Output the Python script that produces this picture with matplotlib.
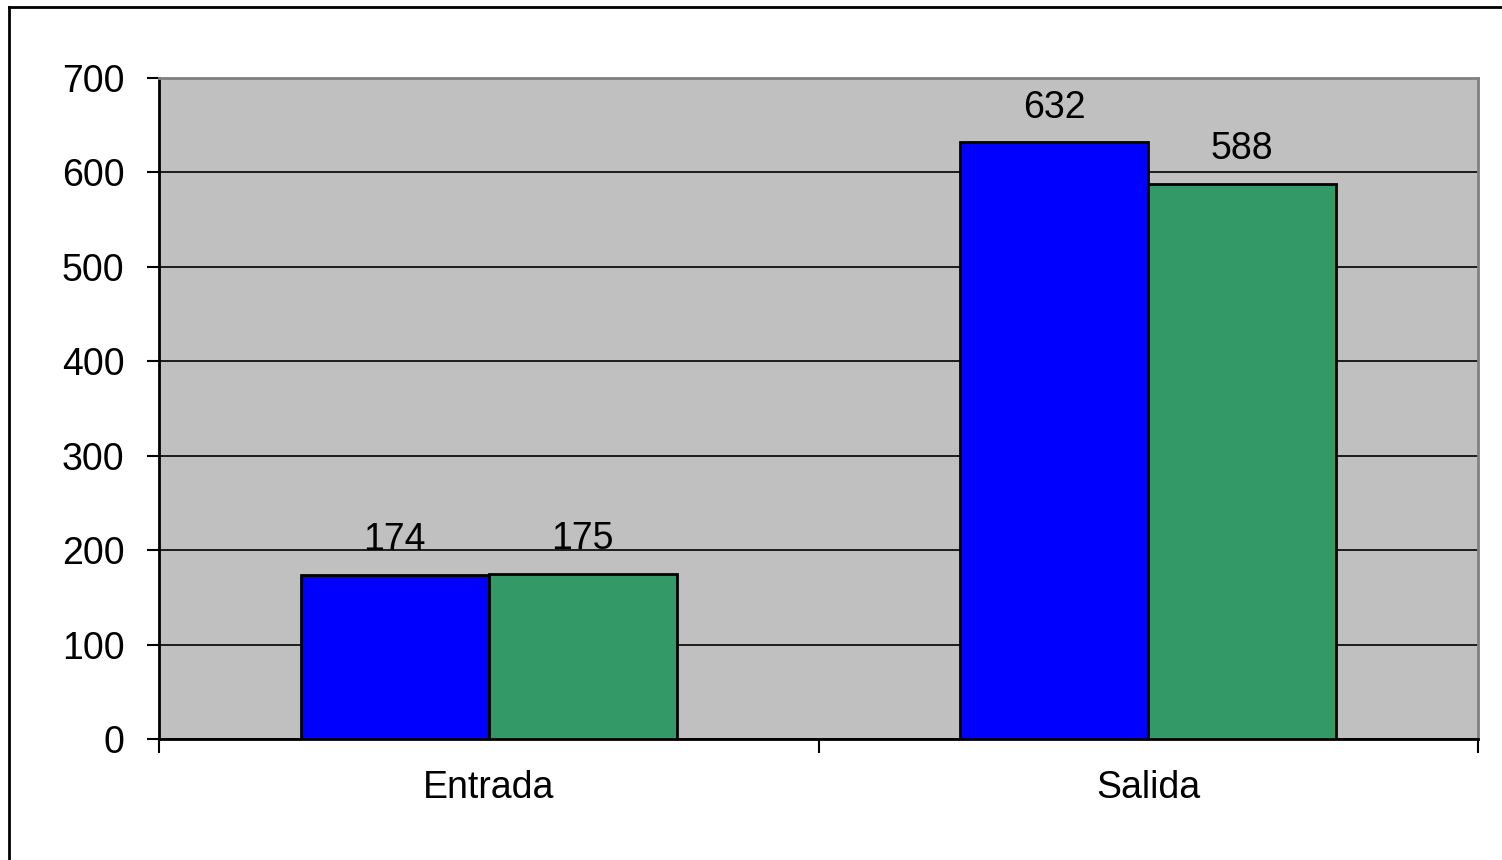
import matplotlib.pyplot as plt
from matplotlib.lines import Line2D

categories = ['Entrada', 'Salida']
serie_a = [174, 632]
serie_b = [175, 588]
yticks = [0, 100, 200, 300, 400, 500, 600, 700]

plt.rcParams['font.family'] = ['Liberation Sans', 'DejaVu Sans']
FS = 27

fig = plt.figure(figsize=(15.02, 8.6), dpi=100)
ax = fig.add_axes([0.1059, 0.1407, 0.8782, 0.7686])
ax.set_facecolor('#C0C0C0')

w = 0.285
centers = [i + 0.5 for i in range(len(categories))]
xa = [c - w / 2 for c in centers]
xb = [c + w / 2 for c in centers]
bars_a = ax.bar(xa, serie_a, width=w, color='#0000FF', edgecolor='black', linewidth=2, zorder=3)
bars_b = ax.bar(xb, serie_b, width=w, color='#339966', edgecolor='black', linewidth=2, zorder=3)

for bars in (bars_a, bars_b):
    for b in bars:
        ax.annotate(str(int(b.get_height())), (b.get_x() + b.get_width() / 2, b.get_height()),
                    xytext=(0, 12), textcoords='offset points', ha='center', va='bottom',
                    fontsize=FS, color='black')

ax.set_xlim(0, len(categories))
ax.set_ylim(0, 700)
ax.set_yticks(yticks)
ax.set_yticklabels([str(v) for v in yticks], fontsize=FS)
ax.yaxis.grid(True, color='black', linewidth=1.2, zorder=1)
ax.set_axisbelow(True)

# category ticks on boundaries, labels at centers
ax.set_xticks(range(len(categories) + 1))
ax.set_xticklabels([''] * (len(categories) + 1))
ax.set_xticks(centers, minor=True)
ax.set_xticklabels(categories, minor=True, fontsize=FS)
ax.tick_params(axis='x', which='minor', length=0, pad=22)
ax.tick_params(axis='x', which='major', length=10, width=1.5, direction='out')
ax.tick_params(axis='y', length=9, width=1.5, pad=16)

ax.spines['left'].set_color('black')
ax.spines['left'].set_linewidth(2)
ax.spines['bottom'].set_color('black')
ax.spines['bottom'].set_linewidth(2)
ax.spines['top'].set_color('#808080')
ax.spines['top'].set_linewidth(2)
ax.spines['right'].set_color('#808080')
ax.spines['right'].set_linewidth(2)

# outer frame (left and top only visible)
fig.add_artist(Line2D([0.0063, 0.0063], [0, 0.9919], transform=fig.transFigure, color='black', linewidth=2))
fig.add_artist(Line2D([0.0063, 1.0], [0.9919, 0.9919], transform=fig.transFigure, color='black', linewidth=2))

fig.savefig('out.png', dpi=100)
